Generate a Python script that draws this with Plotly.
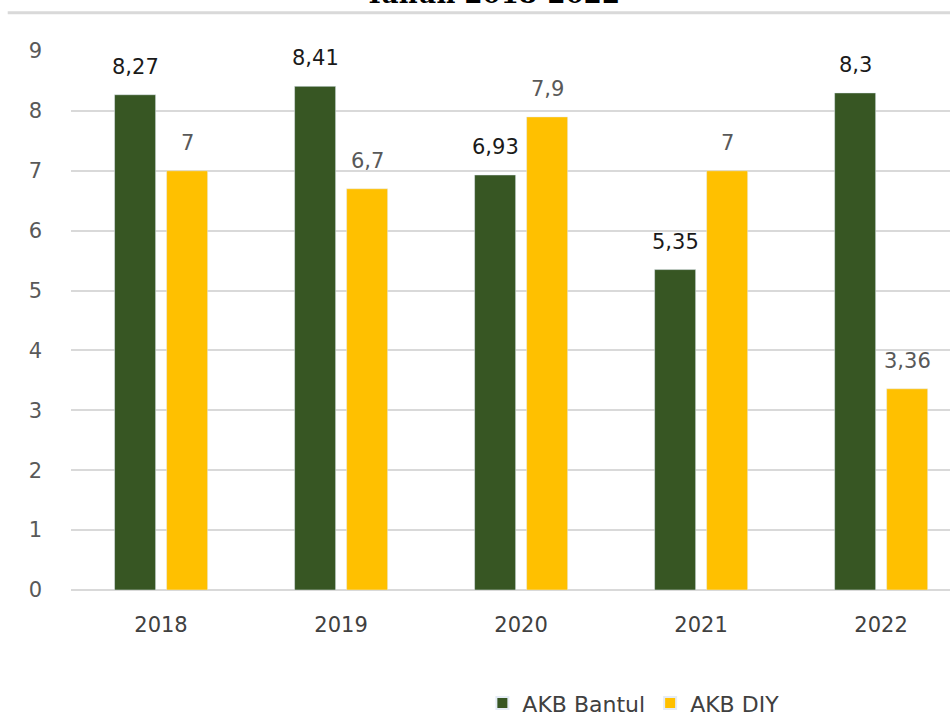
import plotly.graph_objects as go

years = ["2018", "2019", "2020", "2021", "2022"]
akb_bantul = [8.27, 8.41, 6.93, 5.35, 8.3]
akb_diy = [7, 6.7, 7.9, 7, 3.36]
y_ticks = [0, 1, 2, 3, 4, 5, 6, 7, 8, 9]

GREEN = "#375623"
YELLOW = "#FFC000"
GRID = "#d9d9d9"
FONT = "DejaVu Sans, sans-serif"

BAR_W = 0.228
OFF_BANTUL = -0.258
OFF_DIY = 0.031


def label(v):
    return f"{v:g}".replace(".", ",")


fig = go.Figure()

fig.add_trace(
    go.Bar(
        x=years,
        y=akb_bantul,
        name="AKB Bantul",
        marker_color=GREEN,
        width=BAR_W,
        offset=OFF_BANTUL,
    )
)
fig.add_trace(
    go.Bar(
        x=years,
        y=akb_diy,
        name="AKB DIY",
        marker_color=YELLOW,
        width=BAR_W,
        offset=OFF_DIY,
    )
)

# label data di atas batang (jarak lebih lebar seperti Excel)
# sumbu kategori -> posisi anotasi pakai indeks kategori
for i, v in enumerate(akb_bantul):
    fig.add_annotation(
        x=i + OFF_BANTUL + BAR_W / 2, y=v, text=label(v), showarrow=False,
        yanchor="bottom", yshift=14,
        font=dict(family=FONT, size=21, color="#1a1a1a"),
    )
for i, v in enumerate(akb_diy):
    fig.add_annotation(
        x=i + OFF_DIY + BAR_W / 2, y=v, text=label(v), showarrow=False,
        yanchor="bottom", yshift=14,
        font=dict(family=FONT, size=21, color="#595959"),
    )

# Judul terpotong di atas + garis batas
fig.add_annotation(
    text="<b>Tahun 2018-2022</b>",
    xref="paper", yref="paper",
    x=0.479, y=1.074,
    xanchor="center", yanchor="bottom",
    showarrow=False,
    font=dict(family="DejaVu Serif", size=26, color="black"),
)
fig.add_shape(
    type="line", xref="paper", yref="paper",
    x0=-0.072, x1=1.0, y0=1.071, y1=1.071,
    line=dict(color=GRID, width=3),
)

fig.update_layout(
    barmode="overlay",
    paper_bgcolor="white",
    plot_bgcolor="white",
    width=950,
    height=713,
    font=dict(family=FONT, color="#595959", size=21),
    margin=dict(l=71, r=0, t=51, b=123, autoexpand=False),
    showlegend=True,
    legend=dict(
        orientation="h",
        x=0.468, y=-0.21,
        xanchor="left", yanchor="middle",
        font=dict(family=FONT, size=22, color="#404040"),
        itemsizing="constant",
    ),
)

fig.update_xaxes(
    type="category",
    range=[-0.5, 4.383],
    showgrid=False,
    showline=False,
    ticks="",
    tickfont=dict(family=FONT, size=21, color="#404040"),
    ticklabelstandoff=20,
)
fig.update_yaxes(
    range=[0, 9],
    tickvals=y_ticks,
    gridcolor=GRID,
    gridwidth=2,
    zeroline=True,
    zerolinecolor=GRID,
    zerolinewidth=2,
    ticks="",
    tickfont=dict(family=FONT, size=21, color="#595959"),
    ticklabelstandoff=28,
)

# hilangkan margin body bawaan browser (8px) dan modebar
fig.write_html(
    "out.html",
    config={"displayModeBar": False},
    post_script="document.body.style.margin='0px';",
)
